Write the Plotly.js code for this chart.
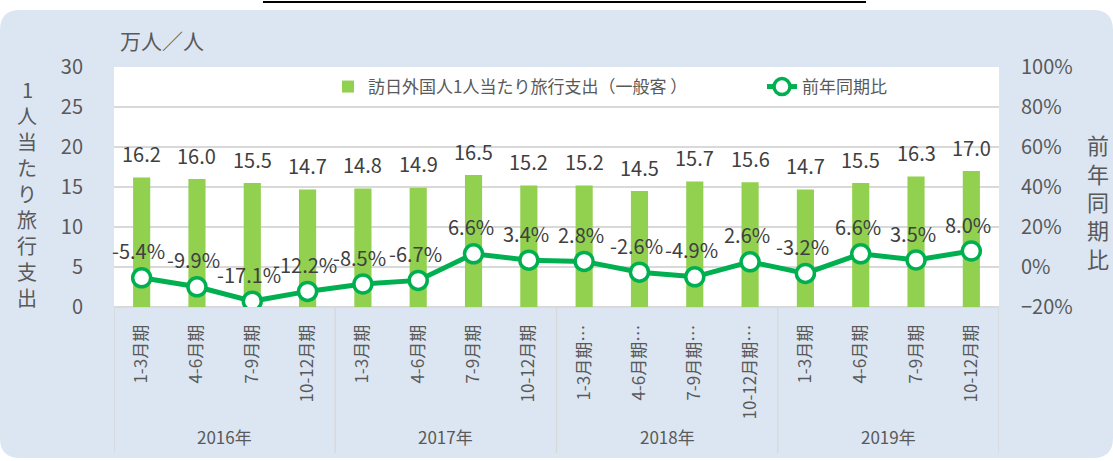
<!DOCTYPE html>
<html>
<head>
<meta charset="utf-8">
<script src="https://cdn.plot.ly/plotly-3.0.1.min.js"></script>
<style>
html,body{margin:0;padding:0;background:#ffffff;}
#chart{width:1113px;height:461px;}
</style>
</head>
<body>
<div id="chart"></div>
<script>
// ---- data ----
const years = ['2016年', '2017年', '2018年', '2019年'];
const quarterLabels = [
  '1-3月期', '4-6月期', '7-9月期', '10-12月期',
  '1-3月期', '4-6月期', '7-9月期', '10-12月期',
  '1-3月期…', '4-6月期…', '7-9月期…', '10-12月期…',
  '1-3月期', '4-6月期', '7-9月期', '10-12月期'
];
const spending = [16.2, 16.0, 15.5, 14.7, 14.8, 14.9, 16.5, 15.2, 15.2, 14.5, 15.7, 15.6, 14.7, 15.5, 16.3, 17.0];
const yoy = [-5.4, -9.9, -17.1, -12.2, -8.5, -6.7, 6.6, 3.4, 2.8, -2.6, -4.9, 2.6, -3.2, 6.6, 3.5, 8.0];
const barName = '訪日外国人1人当たり旅行支出（一般客 ）';
const lineName = '前年同期比';
const leftTitle = '1人当たり旅行支出';
const rightTitle = '前年同期比';
const unitLabel = '万人／人';

// ---- layout helpers ----
const W = 1113, H = 461;
const M = {l: 114, r: 114, t: 67, b: 154};
const PW = W - M.l - M.r, PH = H - M.t - M.b;
const px = v => (v - M.l) / PW;           // pixel x -> paper x
const py = v => (H - M.b - v) / PH;       // pixel y -> paper y

const FONT = '"Noto Sans CJK JP", "Noto Sans", sans-serif';
const GRAY = '#595959';
const DARK = '#404040';
const GRID = '#d9d9d9';

const idx = quarterLabels.map((_, i) => i);
const perYear = quarterLabels.length / years.length;

const traces = [
  {
    type: 'bar',
    name: barName,
    x: idx,
    y: spending,
    width: 0.31,
    marker: {color: '#92d050'},
    legend: 'legend',
    hoverinfo: 'skip'
  },
  {
    type: 'scatter',
    mode: 'lines+markers',
    name: lineName,
    x: idx,
    y: yoy,
    yaxis: 'y2',
    line: {color: '#00b050', width: 5},
    marker: {size: 18, color: '#ffffff', line: {color: '#00b050', width: 3.5}},
    legend: 'legend2',
    hoverinfo: 'skip'
  }
];

const annotations = [];
spending.forEach((v, i) => annotations.push({
  x: i, y: v, xref: 'x', yref: 'y', text: v.toFixed(1), showarrow: false,
  xanchor: 'center', yanchor: 'middle',
  yshift: 24, font: {family: FONT, size: 20, color: DARK}
}));
yoy.forEach((v, i) => annotations.push({
  x: i, y: v, xref: 'x', yref: 'y2', text: v.toFixed(1) + '%', showarrow: false,
  xanchor: 'center', yanchor: 'middle',
  yshift: 27, xshift: -3, font: {family: FONT, size: 20, color: DARK}
}));
years.forEach((yr, g) => annotations.push({
  x: g * perYear + (perYear - 1) / 2, y: py(436), xref: 'x', yref: 'paper',
  xanchor: 'center', yanchor: 'middle',
  text: yr, showarrow: false, font: {family: FONT, size: 17, color: GRAY}
}));
// vertical (stacked, upright) axis titles: one character per annotation
function stacked(text, cx, cy, step, size) {
  const chars = text.split('');
  const top = cy - step * (chars.length - 1) / 2;
  chars.forEach((ch, k) => annotations.push({
    x: px(cx), y: py(top + k * step), xref: 'paper', yref: 'paper', showarrow: false,
    xanchor: 'center', yanchor: 'middle', text: ch,
    font: {family: FONT, size: size, color: GRAY}
  }));
}
stacked(leftTitle, 27, 193.5, 26, 20);
stacked(rightTitle, 1098, 201, 28.5, 22);
annotations.push({
  x: px(162), y: py(40), xref: 'paper', yref: 'paper', showarrow: false,
  xanchor: 'center', yanchor: 'middle',
  text: unitLabel, font: {family: FONT, size: 21, color: GRAY}
});

// background container (rounded) + plot area
const X0 = px(0), X1 = px(1113), YT = py(10), YB = py(458);
const rx = 20 / PW, ry = 20 / PH;
const roundPath = `M ${X0 + rx},${YT} L ${X1 - rx},${YT} Q ${X1},${YT} ${X1},${YT - ry} ` +
  `L ${X1},${YB + ry} Q ${X1},${YB} ${X1 - rx},${YB} L ${X0 + rx},${YB} Q ${X0},${YB} ${X0},${YB + ry} ` +
  `L ${X0},${YT - ry} Q ${X0},${YT} ${X0 + rx},${YT} Z`;

const shapes = [
  {type: 'path', xref: 'paper', yref: 'paper', path: roundPath, fillcolor: '#dce6f2', line: {width: 0}, layer: 'below'},
  {type: 'rect', xref: 'paper', yref: 'paper', x0: 0, x1: 1, y0: 0, y1: 1, fillcolor: '#ffffff', line: {width: 0}, layer: 'below'},
  {type: 'line', xref: 'paper', yref: 'paper', x0: px(263), x1: px(866), y0: py(2), y1: py(2), line: {color: '#000000', width: 2}}
];
for (let g = 0; g <= years.length; g++) {
  shapes.push({
    type: 'line', xref: 'x', yref: 'paper', x0: g * perYear - 0.5, x1: g * perYear - 0.5,
    y0: 0, y1: py(453), line: {color: GRID, width: 1.5}
  });
}

const legendFont = {family: FONT, size: 17, color: GRAY};
const layout = {
  width: W, height: H,
  margin: M,
  paper_bgcolor: '#ffffff',
  plot_bgcolor: '#ffffff',
  font: {family: FONT, color: GRAY},
  showlegend: true,
  legend: {
    orientation: 'h', x: px(328), xanchor: 'left', y: py(87), yanchor: 'middle',
    bgcolor: 'rgba(0,0,0,0)', font: legendFont
  },
  legend2: {
    orientation: 'h', x: px(762), xanchor: 'left', y: py(87), yanchor: 'middle',
    bgcolor: 'rgba(0,0,0,0)', font: legendFont
  },
  xaxis: {
    range: [-0.5, quarterLabels.length - 0.5],
    tickmode: 'array', tickvals: idx, ticktext: quarterLabels,
    tickangle: -90, ticks: 'outside', ticklen: 10, tickcolor: 'rgba(0,0,0,0)',
    tickfont: {family: FONT, size: 17, color: GRAY},
    showgrid: false, zeroline: false, showline: false, fixedrange: true
  },
  yaxis: {
    range: [0, 30], dtick: 5, tick0: 0,
    showgrid: true, gridcolor: GRID, gridwidth: 1.5,
    zeroline: true, zerolinecolor: GRID, zerolinewidth: 1.5,
    ticks: 'outside', ticklen: 26, tickcolor: 'rgba(0,0,0,0)',
    tickfont: {family: FONT, size: 20, color: GRAY},
    showline: false, fixedrange: true
  },
  yaxis2: {
    overlaying: 'y', side: 'right',
    range: [-20, 100], dtick: 20, tick0: 0, ticksuffix: '%',
    showgrid: false, zeroline: false,
    ticks: 'outside', ticklen: 17, tickcolor: 'rgba(0,0,0,0)',
    tickfont: {family: FONT, size: 20, color: GRAY},
    showline: false, fixedrange: true
  },
  annotations: annotations,
  shapes: shapes
};

Plotly.newPlot('chart', traces, layout, {displayModeBar: false, staticPlot: true});
</script>
</body>
</html>
